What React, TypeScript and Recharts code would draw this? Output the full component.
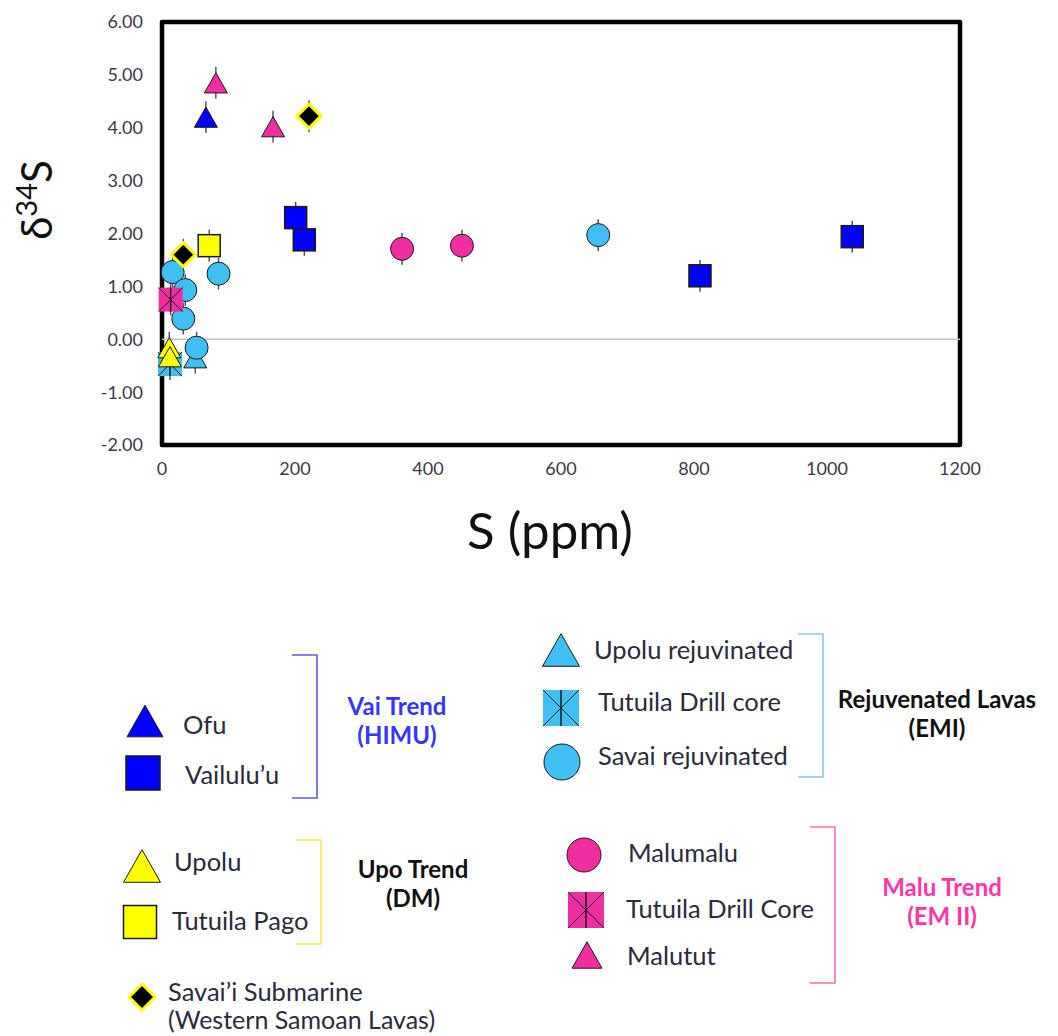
import React from 'react';
import {
  ScatterChart,
  Scatter,
  XAxis,
  YAxis,
  ErrorBar,
  ReferenceLine,
  ReferenceArea,
} from 'recharts';

// S (ppm) vs d34S, one array per sample suite
const ofu = [{ x: 66, y: 4.2 }];
const vailulu = [
  { x: 201, y: 2.3 },
  { x: 214, y: 1.88 },
  { x: 809, y: 1.2 },
  { x: 1038, y: 1.94 },
];
const upolu = [
  { x: 11, y: -0.16 },
  { x: 12, y: -0.33 },
];
const tutuilaPago = [{ x: 71, y: 1.77 }];
const savaiiSubmarine = [
  { x: 32, y: 1.6 },
  { x: 221, y: 4.22 },
];
const upoluRejuvenated = [{ x: 50, y: -0.35 }];
const tutuilaDrillRejuv = [{ x: 12, y: -0.47 }];
const savaiRejuvenated = [
  { x: 16, y: 1.27 },
  { x: 85, y: 1.24 },
  { x: 35, y: 0.93 },
  { x: 32, y: 0.39 },
  { x: 52, y: -0.16 },
  { x: 656, y: 1.97 },
];
const malumalu = [
  { x: 361, y: 1.71 },
  { x: 451, y: 1.77 },
];
const tutuilaDrillMalu = [{ x: 13, y: 0.75 }];
const malutut = [
  { x: 81, y: 4.85 },
  { x: 167, y: 4.02 },
];

const ERR = 0.3;
const xTicks = [0, 200, 400, 600, 800, 1000, 1200];
const yTicks = [-2, -1, 0, 1, 2, 3, 4, 5, 6];

const BLUE = '#0000ff';
const LIGHT = '#3fbff2';
const PINK = '#f02ea2';
const YELLOW = '#ffff00';
const EDGE = '#1a1a1a';
const FONT = 'Lato, "Open Sans", sans-serif';
const TEXT = '#2b2b3b';

const withErr = (pts: { x: number; y: number }[]) => pts.map((p) => ({ ...p, err: ERR }));

type MarkProps = { cx: number; cy: number; fill: string; s?: number };

const TriangleMark = ({ cx, cy, fill, s = 23 }: MarkProps) => {
  const h = s * 0.88;
  return (
    <polygon
      points={`${cx},${cy - h / 2} ${cx + s / 2},${cy + h / 2} ${cx - s / 2},${cy + h / 2}`}
      fill={fill}
      stroke={EDGE}
      strokeWidth={1}
    />
  );
};

const SquareMark = ({ cx, cy, fill, s = 22 }: MarkProps) => (
  <rect x={cx - s / 2} y={cy - s / 2} width={s} height={s} fill={fill} stroke={EDGE} strokeWidth={1.5} />
);

const CrossSquareMark = ({ cx, cy, fill, s = 24 }: MarkProps) => {
  const h = s / 2;
  return (
    <g>
      <rect x={cx - h} y={cy - h} width={s} height={s} fill={fill} />
      <line x1={cx - h} y1={cy - h} x2={cx + h} y2={cy + h} stroke={EDGE} strokeWidth={1} />
      <line x1={cx + h} y1={cy - h} x2={cx - h} y2={cy + h} stroke={EDGE} strokeWidth={1} />
      <line x1={cx} y1={cy - h} x2={cx} y2={cy + h} stroke={EDGE} strokeWidth={1.5} />
    </g>
  );
};

const CircleMark = ({ cx, cy, fill, s = 23 }: MarkProps) => (
  <circle cx={cx} cy={cy} r={s / 2} fill={fill} stroke={EDGE} strokeWidth={1} />
);

const DiamondMark = ({ cx, cy, s = 24 }: MarkProps) => {
  const h = s / 2;
  return (
    <polygon
      points={`${cx},${cy - h} ${cx + h},${cy} ${cx},${cy + h} ${cx - h},${cy}`}
      fill="#000"
      stroke={YELLOW}
      strokeWidth={3}
      strokeLinejoin="round"
    />
  );
};

const errBar = <ErrorBar dataKey="err" direction="y" width={0} stroke="#555" strokeWidth={1.5} />;

const YLabel = () => (
  <text
    x={52}
    y={200}
    transform="rotate(-90, 52, 200)"
    textAnchor="middle"
    fontFamily={FONT}
    fontSize={42}
    fill="#111"
  >
    δ
    <tspan dy={-15} fontSize={29}>
      34
    </tspan>
    <tspan dy={15}>S</tspan>
  </text>
);

const XLabel = () => (
  <text x={550} y={549} textAnchor="middle" fontFamily={FONT} fontSize={51} fill="#111">
    S (ppm)
  </text>
);

type LegendItem = { label: string; y: number; mark: (cx: number, cy: number) => React.ReactNode };

const Bracket = ({ x, y1, y2, color }: { x: number; y1: number; y2: number; color: string }) => (
  <path d={`M${x - 25},${y1} H${x} V${y2} H${x - 25}`} fill="none" stroke={color} strokeWidth={1.6} />
);

function Legend() {
  const item = (it: LegendItem, tx: number) => (
    <g key={it.label}>
      {it.mark(0, 0)}
      <text x={tx} y={it.y} dominantBaseline="central" fontFamily={FONT} fontSize={25.5} fill={TEXT}>
        {it.label}
      </text>
    </g>
  );
  const groupTitle = (lines: string[], cx: number, cy: number, color: string) => (
    <text textAnchor="middle" fontFamily={FONT} fontSize={24} fontWeight={700} fill={color}>
      {lines.map((l, i) => (
        <tspan key={l} x={cx} y={cy + i * 29}>
          {l}
        </tspan>
      ))}
    </text>
  );

  return (
    <svg width={1058} height={1036} style={{ position: 'absolute', left: 0, top: 0 }}>
      {/* Vai trend */}
      {item({ label: 'Ofu', y: 724, mark: () => <TriangleMark cx={145} cy={721} fill={BLUE} s={36} /> }, 183)}
      {item({ label: 'Vailulu’u', y: 774, mark: () => <SquareMark cx={143} cy={773} fill={BLUE} s={34} /> }, 185)}
      <Bracket x={317} y1={655} y2={798} color="#5a5af0" />
      {groupTitle(['Vai Trend', '(HIMU)'], 397, 715, '#3535ff')}

      {/* Rejuvenated lavas */}
      {item({ label: 'Upolu rejuvinated', y: 649, mark: () => <TriangleMark cx={561} cy={650} fill={LIGHT} s={37} /> }, 594)}
      {item({ label: 'Tutuila Drill core', y: 701, mark: () => <CrossSquareMark cx={561} cy={708} fill={LIGHT} s={36} /> }, 598)}
      {item({ label: 'Savai rejuvinated', y: 755, mark: () => <CircleMark cx={562} cy={762} fill={LIGHT} s={36} /> }, 598)}
      <Bracket x={823} y1={634} y2={777} color="#82c8ee" />
      {groupTitle(['Rejuvenated Lavas', '(EMI)'], 937, 708, '#111')}

      {/* Upo trend */}
      {item({ label: 'Upolu', y: 861, mark: () => <TriangleMark cx={142} cy={866} fill={YELLOW} s={37} /> }, 174)}
      {item({ label: 'Tutuila Pago', y: 920, mark: () => <SquareMark cx={140} cy={922} fill={YELLOW} s={33} /> }, 172)}
      <Bracket x={321} y1={840} y2={944} color="#ffe84a" />
      {groupTitle(['Upo Trend', '(DM)'], 413, 878, '#111')}

      {item({ label: 'Savai’i Submarine', y: 991, mark: () => <DiamondMark cx={142} cy={997} fill="#000" s={26} /> }, 168)}
      <text x={168} y={1019} dominantBaseline="central" fontFamily={FONT} fontSize={25} fill={TEXT}>
        (Western Samoan Lavas)
      </text>

      {/* Malu trend */}
      {item({ label: 'Malumalu', y: 852, mark: () => <CircleMark cx={584} cy={855} fill={PINK} s={34} /> }, 628)}
      {item({ label: 'Tutuila Drill Core', y: 908, mark: () => <CrossSquareMark cx={586} cy={910} fill={PINK} s={36} /> }, 626)}
      {item({ label: 'Malutut', y: 955, mark: () => <TriangleMark cx={587} cy={955} fill={PINK} s={30} /> }, 627)}
      <Bracket x={835} y1={827} y2={983} color="#ff6db8" />
      {groupTitle(['Malu Trend', '(EM II)'], 942, 896, '#ff36a6')}
    </svg>
  );
}

const tickStyle = { fontFamily: FONT, fontSize: 18, fill: '#3a3a48' };

export default function App() {
  return (
    <div style={{ position: 'absolute', left: 0, top: 0, width: 1058, height: 1036, background: '#fff' }}>
      <ScatterChart width={1000} height={560} margin={{ top: 22, right: 40, bottom: 5, left: 0 }}>
        <XAxis
          type="number"
          dataKey="x"
          domain={[0, 1200]}
          ticks={xTicks}
          axisLine={false}
          tickLine={false}
          tickMargin={11}
          height={110}
          tick={tickStyle}
          label={<XLabel />}
        />
        <YAxis
          type="number"
          dataKey="y"
          domain={[-2, 6]}
          ticks={yTicks}
          axisLine={false}
          tickLine={false}
          tickMargin={13}
          width={162}
          tick={tickStyle}
          tickFormatter={(v: number) => v.toFixed(2)}
          label={<YLabel />}
        />
        <ReferenceArea
          x1={0}
          x2={1200}
          y1={-2}
          y2={6}
          fill="none"
          fillOpacity={0}
          stroke="#000"
          strokeWidth={4.5}
          strokeLinejoin="round"
          ifOverflow="visible"
        />
        <ReferenceLine y={0} stroke="#c4c4c4" strokeWidth={1.5} />

        <Scatter data={withErr(upoluRejuvenated)} isAnimationActive={false}
          shape={(p: any) => <TriangleMark cx={p.cx} cy={p.cy} fill={LIGHT} />}>
          {errBar}
        </Scatter>
        <Scatter data={withErr(tutuilaDrillRejuv)} isAnimationActive={false}
          shape={(p: any) => <CrossSquareMark cx={p.cx} cy={p.cy} fill={LIGHT} />}>
          {errBar}
        </Scatter>
        <Scatter data={withErr(savaiRejuvenated)} isAnimationActive={false}
          shape={(p: any) => <CircleMark cx={p.cx} cy={p.cy} fill={LIGHT} />}>
          {errBar}
        </Scatter>
        <Scatter data={withErr(malumalu)} isAnimationActive={false}
          shape={(p: any) => <CircleMark cx={p.cx} cy={p.cy} fill={PINK} />}>
          {errBar}
        </Scatter>
        <Scatter data={withErr(tutuilaDrillMalu)} isAnimationActive={false}
          shape={(p: any) => <CrossSquareMark cx={p.cx} cy={p.cy} fill={PINK} />}>
          {errBar}
        </Scatter>
        <Scatter data={withErr(malutut)} isAnimationActive={false}
          shape={(p: any) => <TriangleMark cx={p.cx} cy={p.cy} fill={PINK} />}>
          {errBar}
        </Scatter>
        <Scatter data={withErr(upolu)} isAnimationActive={false}
          shape={(p: any) => <TriangleMark cx={p.cx} cy={p.cy} fill={YELLOW} />}>
          {errBar}
        </Scatter>
        <Scatter data={withErr(tutuilaPago)} isAnimationActive={false}
          shape={(p: any) => <SquareMark cx={p.cx} cy={p.cy} fill={YELLOW} />}>
          {errBar}
        </Scatter>
        <Scatter data={withErr(savaiiSubmarine)} isAnimationActive={false}
          shape={(p: any) => <DiamondMark cx={p.cx} cy={p.cy} fill="#000" />}>
          {errBar}
        </Scatter>
        <Scatter data={withErr(ofu)} isAnimationActive={false}
          shape={(p: any) => <TriangleMark cx={p.cx} cy={p.cy} fill={BLUE} />}>
          {errBar}
        </Scatter>
        <Scatter data={withErr(vailulu)} isAnimationActive={false}
          shape={(p: any) => <SquareMark cx={p.cx} cy={p.cy} fill={BLUE} />}>
          {errBar}
        </Scatter>
      </ScatterChart>
      <Legend />
    </div>
  );
}
